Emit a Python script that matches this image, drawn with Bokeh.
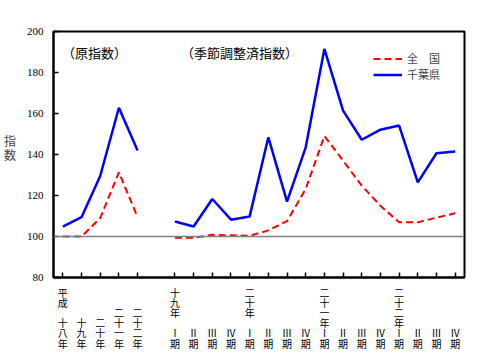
from bokeh.plotting import figure
from bokeh.models import Range1d, FixedTicker, Span, Label, Legend, LegendItem
from bokeh.embed import file_html
from bokeh.resources import INLINE

# ---- data ----
x_annual = [0, 1, 2, 3, 4]
x_quarter = list(range(6, 22))
chiba_annual = [104.8, 109.4, 129.5, 162.8, 142.0]
japan_annual = [100.0, 100.0, 109.0, 131.3, 109.5]
chiba_quarter = [107.3, 104.9, 118.3, 108.2, 109.8, 148.4, 117.0, 143.5,
                 191.5, 161.4, 147.2, 152.1, 154.1, 126.4, 140.6, 141.5]
japan_quarter = [99.4, 99.4, 100.8, 100.6, 100.3, 103.0, 107.5, 123.2,
                 149.0, 137.0, 124.8, 115.0, 106.9, 106.9, 109.2, 111.3]
tick_positions = x_annual + x_quarter
tick_labels = ["平成　十八年", "十九年", "二十年", "二十一年", "二十二年",
               "十九年　Ⅰ期", "Ⅱ期", "Ⅲ期", "Ⅳ期",
               "二十年　Ⅰ期", "Ⅱ期", "Ⅲ期", "Ⅳ期",
               "二十一年Ⅰ期", "Ⅱ期", "Ⅲ期", "Ⅳ期",
               "二十二年Ⅰ期", "Ⅱ期", "Ⅲ期", "Ⅳ期"]
y_ticks = [80, 100, 120, 140, 160, 180, 200]
series_names = ["全　国", "千葉県"]
y_axis_title = "指数"

JP = "Noto Sans CJK JP"

def vertical(s, n=6):
    s = s.rjust(n, "　")
    return "\n".join(list(s))

p = figure(width=480, height=355, output_backend="svg", toolbar_location=None,
           x_range=Range1d(-0.5, 21.5), y_range=Range1d(80, 200),
           frame_width=411, frame_height=246,
           min_border_left=53, min_border_right=16, min_border_top=31,
           min_border_bottom=78, title=None)
p.background_fill_color = "white"
p.border_fill_color = "white"
p.outline_line_color = "black"
p.outline_line_width = 2
p.xgrid.visible = False
p.ygrid.visible = False

# axes
p.xaxis.ticker = FixedTicker(ticks=tick_positions)
p.xaxis.major_label_overrides = {t: vertical(l) for t, l in zip(tick_positions, tick_labels)}
p.xaxis.major_label_text_font = JP
p.xaxis.major_label_text_font_size = "10px"
p.xaxis.major_label_text_line_height = 0.68
p.xaxis.major_label_standoff = 7
p.xaxis.major_label_text_color = "black"
p.xaxis.major_tick_in = 5
p.xaxis.major_tick_out = 0
p.xaxis.minor_tick_line_color = None
p.xaxis.axis_line_width = 2
p.xaxis.major_tick_line_width = 1.5

p.yaxis.ticker = FixedTicker(ticks=y_ticks)
p.yaxis.major_label_text_font = "Liberation Sans Narrow"
p.yaxis.major_label_text_font_size = "11px"
p.yaxis.major_label_standoff = 10
p.yaxis.major_label_text_color = "black"
p.yaxis.major_tick_in = 5
p.yaxis.major_tick_out = 0
p.yaxis.minor_tick_line_color = None
p.yaxis.axis_line_width = 2
p.yaxis.major_tick_line_width = 1.5
p.yaxis.axis_label = "\n".join(list(y_axis_title)) + "\n　"
p.yaxis.axis_label_orientation = "horizontal"
p.yaxis.axis_label_text_font = JP
p.yaxis.axis_label_text_font_size = "12px"
p.yaxis.axis_label_text_font_style = "normal"
p.yaxis.axis_label_text_line_height = 0.8
p.yaxis.axis_label_standoff = 8

# reference line
p.add_layout(Span(location=100, dimension="width", line_color="#808080", line_width=1.5))

# series
r_j1 = p.line(x_annual, japan_annual, line_color="#ff0000", line_width=2, line_dash="7 4")
r_j2 = p.line(x_quarter, japan_quarter, line_color="#ff0000", line_width=2, line_dash="7 4")
r_c1 = p.line(x_annual, chiba_annual, line_color="#0000ff", line_width=2.5)
r_c2 = p.line(x_quarter, chiba_quarter, line_color="#0000ff", line_width=2.5)

legend = Legend(items=[LegendItem(label=series_names[0], renderers=[r_j1]),
                       LegendItem(label=series_names[1], renderers=[r_c1])],
                location=(320, 195), orientation="vertical",
                glyph_width=29, glyph_height=13, label_height=13,
                label_standoff=5, spacing=0, padding=0, margin=0,
                border_line_color=None, background_fill_alpha=0,
                label_text_font=JP, label_text_font_size="11px")
p.add_layout(legend)

# titles and inner labels (frame-relative screen coords)
FB = 277  # frame bottom in canvas px
FL = 53
def lab(text, cx, cy, size):
    p.add_layout(Label(x=cx - FL, y=FB - cy, x_units="screen", y_units="screen",
                       text=text, text_font=JP, text_font_size=size,
                       text_align="center", text_baseline="middle", text_color="black"))

lab("第２０図　在庫率指数の推移", 164, 15, "13px")
lab("(平成17年＝100.0)", 381, 15, "13px")
lab("（原指数）", 94, 52, "13px")
lab("（季節調整済指数）", 239, 52, "13px")

open("out.html", "w").write(file_html(p, INLINE))
